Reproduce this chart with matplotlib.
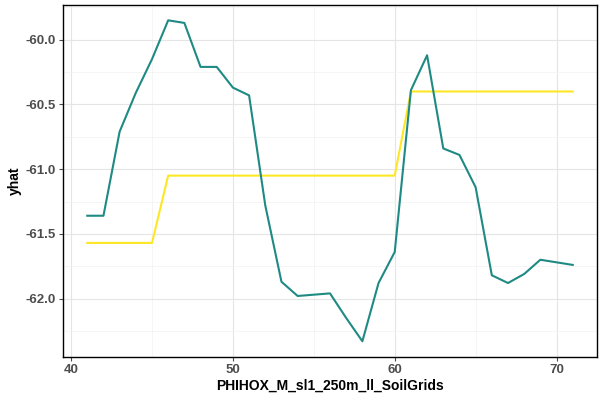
import matplotlib
matplotlib.use("Agg")
import matplotlib.pyplot as plt
import numpy as np

plt.rcParams['font.family'] = ['Liberation Sans', 'DejaVu Sans']

x = list(range(41, 72))
teal = [-61.36,-61.36,-60.71,-60.41,-60.15,-59.85,-59.87,-60.21,-60.21,-60.37,-60.43,
        -61.28,-61.87,-61.98,-61.97,-61.96,-62.15,-62.33,-61.88,-61.64,-60.39,-60.12,
        -60.84,-60.89,-61.14,-61.82,-61.88,-61.81,-61.70,-61.72,-61.74]
yellow = [-61.57]*5 + [-61.05]*15 + [-60.40]*11

fig = plt.figure(figsize=(6,4), dpi=100)
ax = fig.add_axes([0.105, 0.108, 0.89, 0.88])
ax.plot(x, yellow, color="#FDE725", lw=1.5)
ax.plot(x, teal, color="#1F8A84", lw=1.5)
ax.set_xlim(39.5, 72.5)
ax.set_ylim(-62.45, -59.73)
ax.set_xticks([40,50,60,70])
ax.set_xticks([45,55,65], minor=True)
ax.set_yticks([-62.0,-61.5,-61.0,-60.5,-60.0])
ax.set_yticklabels(["-62.0","-61.5","-61.0","-60.5","-60.0"])
ax.set_yticks([-62.25,-61.75,-61.25,-60.75,-60.25,-59.75], minor=True)
ax.grid(True, which="major", color="#E5E5E5", lw=0.8)
ax.grid(True, which="minor", color="#F2F2F2", lw=0.5)
ax.set_axisbelow(True)
for s in ax.spines.values():
    s.set_color("black"); s.set_linewidth(1)
ax.tick_params(which="minor", length=0)
ax.tick_params(which="major", labelsize=9.5, length=3, pad=2, colors="#4D4D4D", labelcolor="#4D4D4D")
for lab in ax.get_xticklabels()+ax.get_yticklabels():
    lab.set_fontweight("bold")
ax.set_xlabel("PHIHOX_M_sl1_250m_ll_SoilGrids", fontweight="bold", fontsize=10, labelpad=2)
ax.set_ylabel("yhat", fontweight="bold", fontsize=10, labelpad=3)
fig.savefig("out.png", dpi=100)
